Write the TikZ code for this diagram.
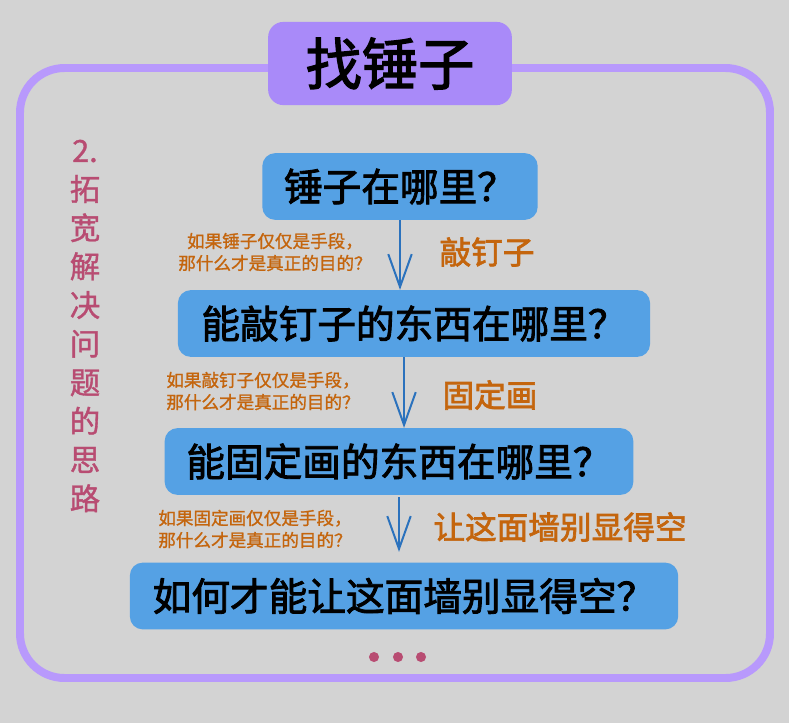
\documentclass[tikz,border=0pt]{standalone}
\usepackage{fontspec}
\newfontfamily\cjk{Noto Sans CJK SC}[FakeBold=1.2]
\newfontfamily\cjkb{Noto Sans CJK SC}[FakeBold=2.2]
\usetikzlibrary{arrows.meta, positioning}

\definecolor{bgcol}{HTML}{D3D3D3}
\definecolor{framecol}{HTML}{B899FC}
\definecolor{titlecol}{HTML}{A98AF9}
\definecolor{boxblue}{HTML}{55A1E4}
\definecolor{arrowblue}{HTML}{2B72BD}
\definecolor{hintorange}{HTML}{C4650D}
\definecolor{sidepink}{HTML}{B84C72}

\begin{document}
\begin{tikzpicture}[x=0.03cm,y=-0.03cm]

	\tikzset{
		qbox/.style={
				rectangle, rounded corners=11pt, fill=boxblue, inner xsep=0pt, inner ysep=0pt, minimum height=57pt, text=black, font=\cjkb\fontsize{33}{38}\selectfont
			},
		titlebox/.style={
				rectangle, rounded corners=13pt, fill=titlecol, minimum width=208pt, minimum height=71pt, text=black, font=\cjkb\fontsize{48}{52}\selectfont
			},
		hint/.style={
				align=center, text=hintorange, inner sep=0pt, font=\cjk\fontsize{15}{18.8}\selectfont
			},
		goal/.style={
				text=hintorange, inner sep=0pt, font=\cjkb\fontsize{27}{32}\selectfont
			},
		flow/.style={
				draw=arrowblue, line width=1.7pt, -{Straight Barb[length=28pt,width=20pt]}
			},
	}

	\fill[bgcol] (0,0) rectangle (789,723);
	\useasboundingbox (0,0) rectangle (789,723);

	% outer frame and title
	\draw[framecol, line width=6.8pt, rounded corners=38pt] (20,68) rectangle (770,678);
	\node[titlebox](title) at (390,63.5){找锤子};

	% side text
	\node[align=center, text=sidepink, inner sep=0pt, font=\cjk\fontsize{26}{33}\selectfont](side) at (85,326){2.\\拓\\宽\\解\\决\\问\\题\\的\\思\\路};

	% question boxes
	\node[qbox, minimum width=235pt](q1) at (400,186.5){锤子在哪里？};
	\node[qbox, minimum width=403pt](q2) at (414,323.5){能敲钉子的东西在哪里？};
	\node[qbox, minimum width=400pt](q3) at (399,461.5){能固定画的东西在哪里？};
	\node[qbox, minimum width=468pt](q4) at (404,596){如何才能让这面墙别显得空？};

	\draw[flow] (q1.south) -- (q1.south |- q2.north);
	\draw[flow] ([xshift=-8.5pt]q2.south) coordinate(a2) -- (a2 |- q3.north);
	\draw[flow] ([yshift=-2pt]q3.south) coordinate(a3) -- ([yshift=9pt]a3 |- q4.north);

	% hints beside the arrows
	\node[hint](h1) at (275,252){如果锤子仅仅是手段，\\那什么才是真正的目的？};
	\node[hint](h2) at (263,391){如果敲钉子仅仅是手段，\\那什么才是真正的目的？};
	\node[hint](h3) at (255,529){如果固定画仅仅是手段，\\那什么才是真正的目的？};

	\node[goal](g1) at (487,252){敲钉子};
	\node[goal](g2) at (490,395){固定画};
	\node[goal](g3) at (560,527){让这面墙别显得空};

	\foreach \x in {374,398,421}
		\fill[sidepink] (\x,657) circle (4.3pt);

\end{tikzpicture}
\end{document}
